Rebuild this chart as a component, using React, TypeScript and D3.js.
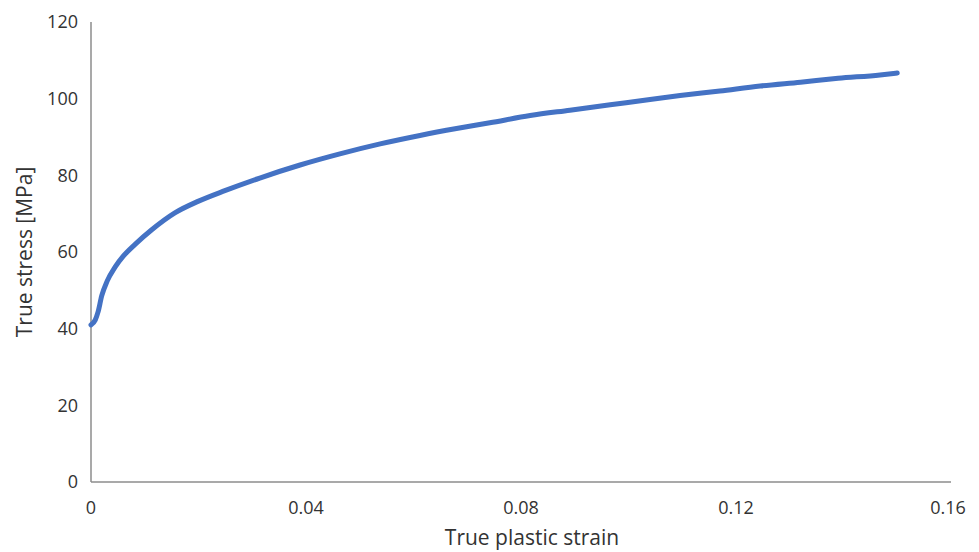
import React from 'react';
import * as d3 from 'd3';

// canvas size
const width = 979;
const height = 552;
const margin = { top: 22, right: 28, bottom: 70, left: 91 };

// true plastic strain / true stress [MPa]
const strain = [0, 0.0008, 0.0013, 0.002, 0.003, 0.0045, 0.006, 0.0082, 0.0113, 0.0156, 0.0199, 0.0249,
  0.0314, 0.0389, 0.0463, 0.0538, 0.0612, 0.068, 0.0742, 0.0817, 0.0891, 0.0966,
  0.104, 0.1096, 0.117, 0.1245, 0.132, 0.139, 0.1468, 0.150];
const stress = [41.0, 42.3, 44.3, 48.6, 52.4, 56.1, 58.9, 62.0, 65.8, 70.2, 73.2, 76.0,
  79.3, 82.7, 85.6, 88.2, 90.4, 92.2, 93.7, 95.6, 97.0, 98.4,
  99.8, 100.8, 102.0, 103.3, 104.3, 105.3, 106.2, 106.7];

const xTicks = [0, 0.04, 0.08, 0.12, 0.16];
const yTicks = [0, 20, 40, 60, 80, 100, 120];

const font = "'Open Sans', sans-serif";
const axisColor = '#8c8c8c';
const textColor = '#333333';

export default function App() {
  const x = d3.scaleLinear().domain([0, 0.16]).range([margin.left, width - margin.right]);
  const y = d3.scaleLinear().domain([0, 120]).range([height - margin.bottom, margin.top]);

  const pts: [number, number][] = strain.map((s, i) => [s, stress[i]]);
  const line = d3.line<[number, number]>()
    .x(d => x(d[0]))
    .y(d => y(d[1]))
    .curve(d3.curveMonotoneX);

  return (
    <div style={{ position: 'absolute', left: 0, top: 0 }}>
      <svg width={width} height={height} style={{ display: 'block', background: '#fff' }}>
        {/* axes */}
        <line x1={x(0)} x2={x(0)} y1={y(120)} y2={y(0)} stroke={axisColor} strokeWidth={1.5} />
        <line x1={x(0)} x2={x(0.16)} y1={y(0)} y2={y(0)} stroke={axisColor} strokeWidth={1.5} />

        {yTicks.map(t => (
          <text key={'y' + t} x={x(0) - 13} y={y(t)} dy="0.35em" textAnchor="end"
            fontFamily={font} fontSize={18} fill={textColor}>{t}</text>
        ))}
        {xTicks.map(t => (
          <text key={'x' + t} x={t === 0.16 ? x(t) - 3 : x(t)} y={y(0) + 26} dy="0.35em" textAnchor="middle"
            fontFamily={font} fontSize={18} fill={textColor}>{t === 0 ? '0' : t.toFixed(2)}</text>
        ))}

        <path d={line(pts) || ''} fill="none" stroke="#4472C4" strokeWidth={5} strokeLinecap="round" />

        <text x={532} y={538} dy="0.35em" textAnchor="middle" fontFamily={font} fontSize={21}
          fill={textColor}>True plastic strain</text>
        <text transform={`translate(25, ${(y(0) + y(120)) / 2}) rotate(-90)`} dy="0.35em"
          textAnchor="middle" fontFamily={font} fontSize={21} fill={textColor}>True stress [MPa]</text>
      </svg>
    </div>
  );
}
